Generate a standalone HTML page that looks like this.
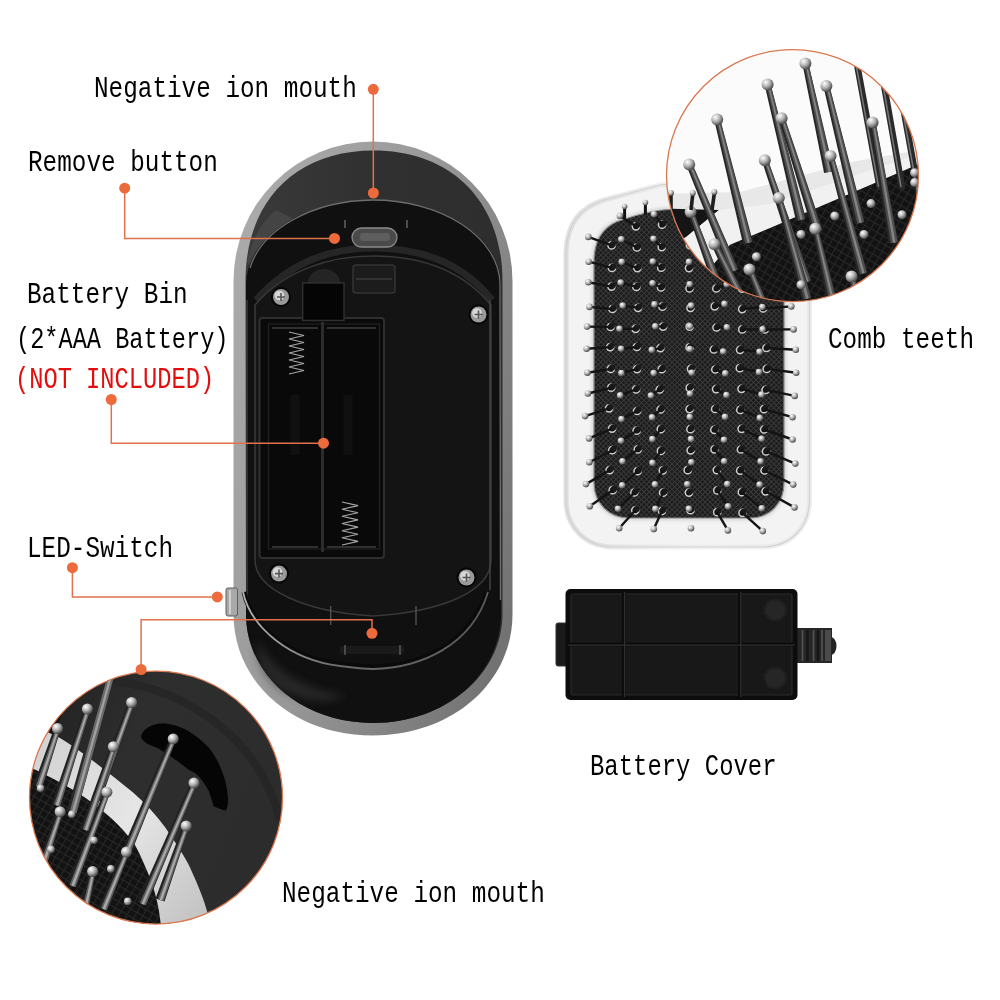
<!DOCTYPE html>
<html><head><meta charset="utf-8">
<style>
html,body{margin:0;padding:0;background:#fff;width:1000px;height:1000px;overflow:hidden}
#c{position:absolute;left:0;top:0}
.t{position:absolute;font-family:"Liberation Mono";font-size:30px;line-height:1;white-space:pre;color:#000;transform-origin:0 0;transform:scaleX(0.811)}
.r{color:#e30d0d}
</style></head>
<body>
<svg id="c" width="1000" height="1000" viewBox="0 0 1000 1000">
<defs>
 <linearGradient id="rimg" x1="0" y1="0.2" x2="1" y2="0.8">
  <stop offset="0" stop-color="#aaaaaa"/><stop offset="0.45" stop-color="#999999"/><stop offset="1" stop-color="#727272"/>
 </linearGradient>
 <linearGradient id="capg" x1="0" y1="0" x2="1" y2="0">
  <stop offset="0" stop-color="#3a3a3a"/><stop offset="0.5" stop-color="#303030"/><stop offset="1" stop-color="#2e2e2e"/>
 </linearGradient>
 <linearGradient id="frameg" x1="0" y1="0" x2="1" y2="0">
  <stop offset="0" stop-color="#cfcfcf"/><stop offset="0.12" stop-color="#ececec"/><stop offset="0.9" stop-color="#f3f3f3"/><stop offset="1" stop-color="#e4e4e4"/>
 </linearGradient>
 <radialGradient id="ballg" cx="0.35" cy="0.3" r="0.7">
  <stop offset="0" stop-color="#ffffff"/><stop offset="0.5" stop-color="#b5b5b5"/><stop offset="1" stop-color="#4a4a4a"/>
 </radialGradient>
 <linearGradient id="stemg" x1="0" y1="0" x2="1" y2="0">
  <stop offset="0" stop-color="#1a1a1a"/><stop offset="0.45" stop-color="#6a6a6a"/><stop offset="0.6" stop-color="#2a2a2a"/><stop offset="1" stop-color="#0c0c0c"/>
 </linearGradient>
 <pattern id="mesh" width="3.6" height="3.6" patternUnits="userSpaceOnUse" patternTransform="rotate(45)">
  <rect width="3.6" height="3.6" fill="#1c1c1c"/>
  <rect width="3.6" height="0.9" fill="#3a3a3a"/><rect width="0.9" height="3.6" fill="#3a3a3a"/>
 </pattern>
 <pattern id="mesh2" width="7" height="7" patternUnits="userSpaceOnUse" patternTransform="rotate(30)">
  <rect width="7" height="7" fill="#121212"/>
  <rect width="7" height="1.2" fill="#262626"/><rect width="1.2" height="7" fill="#262626"/>
 </pattern>
 <linearGradient id="bandg" x1="0" y1="0" x2="1" y2="1">
  <stop offset="0" stop-color="#cfcfcf"/><stop offset="0.5" stop-color="#e6e6e6"/><stop offset="1" stop-color="#bdbdbd"/>
 </linearGradient>
 <linearGradient id="housg" x1="0" y1="0" x2="1" y2="0.4">
  <stop offset="0" stop-color="#1e1e1e"/><stop offset="0.45" stop-color="#2e2e2e"/><stop offset="1" stop-color="#2c2c2c"/>
 </linearGradient>
 <linearGradient id="frameedge" x1="0" y1="0" x2="1" y2="0">
  <stop offset="0" stop-color="#cdcdcd"/><stop offset="0.5" stop-color="#ebebeb"/><stop offset="1" stop-color="#e2e2e2"/>
 </linearGradient>
 <filter id="blur4" x="-50%" y="-50%" width="200%" height="200%"><feGaussianBlur stdDeviation="4"/></filter>
 <filter id="blur2" x="-50%" y="-50%" width="200%" height="200%"><feGaussianBlur stdDeviation="1.5"/></filter>
 <linearGradient id="hlg" x1="0" y1="0" x2="1" y2="0">
  <stop offset="0" stop-color="#b0b0b0"/><stop offset="0.4" stop-color="#6a6a6a"/><stop offset="1" stop-color="#5a5a5a"/>
 </linearGradient>
 <clipPath id="c1"><circle cx="792.5" cy="175.6" r="126"/></clipPath>
 <clipPath id="c2"><circle cx="156" cy="797.6" r="126.5"/></clipPath>
 <clipPath id="padclip"><rect x="593" y="210" width="191" height="308" rx="35"/></clipPath>
</defs>

<path d="M233.5,281 A139.5,139.5 0 0 1 512.5,281 L512.5,614 C512.5,683 452,735.5 373,735.5 C294,735.5 233.5,683 233.5,614 Z" fill="url(#rimg)"/>
<path d="M245.5,281 C245.5,203 294,150.6 373.5,150.6 C453,150.6 502.5,203 502.5,281 L502.5,614 C502.5,674 446,723 373,723 C300,723 246,674 246,614 Z" fill="url(#capg)"/>
<path d="M247,262 C252,238 262,222 276,210 L300,222 C282,236 266,252 256,272 Z" fill="#4a4a4a" opacity="0.7"/>
<path d="M246,285 A127,85 0 0 1 501,285 L501,614 C501,674 446,723 373,723 C300,723 246,674 246,614 Z" fill="#101010"/>
<path d="M250,268 A127,85 0 0 1 373,200 A127,85 0 0 1 500,283 L500.5,600" fill="none" stroke="#6e6e6e" stroke-width="1.3"/>
<path d="M247,300 L247,600" fill="none" stroke="#3a3a3a" stroke-width="1.5"/>
<path d="M256,300 C290,262 330,248 373,248 C420,248 462,262 492,300" fill="none" stroke="#262626" stroke-width="7"/>
<path d="M255,305 C285,270 330,256 373,256 C420,256 462,270 491,305 L491,560 C491,592 440,612 373,616 C306,612 255,590 255,560 Z" fill="#141414" stroke="#383838" stroke-width="1.5"/>
<path d="M244,592 C252,628 290,658 340,664 C355,666 365,667 373,667 C420,666 470,645 487,592" fill="none" stroke="#0a0a0a" stroke-width="5"/>
<path d="M243,592 C251,628 290,660 340,666 C355,668 365,669 373,669 C420,668 472,646 488,592" fill="none" stroke="url(#hlg)" stroke-width="1.8"/>
<path d="M258,640 C270,668 300,688 345,696 C330,705 300,700 280,690 C262,676 255,660 258,640 Z" fill="#3a3a3a" opacity="0.55" filter="url(#blur4)"/>
<rect x="340" y="646" width="64" height="8" rx="2" fill="#1a1a1a"/>
<path d="M345,645 v10 M400,645 v10" stroke="#777" stroke-width="1"/>
<path d="M330.7,606 v19 M416,606 v19" stroke="#555" stroke-width="1.3"/>
<rect x="259.5" y="318" width="124.5" height="240" rx="3" fill="#0a0a0a" stroke="#2e2e2e" stroke-width="2"/>
<rect x="268.5" y="324" width="111" height="225" fill="#090909" stroke="#222" stroke-width="1.2"/>
<path d="M322.5,322 V552" stroke="#2c2c2c" stroke-width="3"/>
<path d="M272,328 H318 M327,328 H376 M272,547 H318 M327,547 H376" stroke="#5a5a5a" stroke-width="1.2"/>
<polyline points="289.0,332.0 304.0,335.5 289.0,339.0 304.0,342.5 289.0,346.0 304.0,349.5 289.0,353.0 304.0,356.5 289.0,360.0 304.0,363.5 289.0,367.0 304.0,370.5 289.0,374.0" fill="none" stroke="#a8a8a8" stroke-width="1.1"/>
<polyline points="342.0,502.0 358.0,505.6 342.0,509.2 358.0,512.8 342.0,516.3 358.0,519.9 342.0,523.5 358.0,527.1 342.0,530.7 358.0,534.2 342.0,537.8 358.0,541.4 342.0,545.0" fill="none" stroke="#a8a8a8" stroke-width="1.1"/>
<path d="M295,395 v60 M348,395 v60" stroke="#101010" stroke-width="9"/>
<path d="M308,283 A16,14 0 0 1 340,283 Z" fill="#242424"/>
<rect x="302.7" y="283" width="41.3" height="37.5" fill="#050505" stroke="#2e2e2e" stroke-width="1.5"/>
<rect x="353" y="265" width="42" height="28" rx="3" fill="#1c1c1c" stroke="#333" stroke-width="1.5"/>
<path d="M356,279 H392" stroke="#3a3a3a" stroke-width="1.5"/>
<rect x="352" y="228" width="45" height="19" rx="9.5" fill="#4a4a4a" stroke="#8a8a8a" stroke-width="1.3"/>
<rect x="360" y="233" width="30" height="8" rx="3" fill="#5e5e5e"/>
<path d="M345,220 v8 M407,220 v8" stroke="#777" stroke-width="1.2"/>
<circle cx="281" cy="297" r="10" fill="#050505"/><circle cx="281" cy="297" r="8" fill="#9a9a9a"/><circle cx="279.5" cy="295.5" r="4.8" fill="#d8d8d8"/><path d="M277,297 h8 M281,293 v8" stroke="#555" stroke-width="1.6"/>
<circle cx="478.5" cy="314.5" r="10" fill="#050505"/><circle cx="478.5" cy="314.5" r="8" fill="#9a9a9a"/><circle cx="477.0" cy="313.0" r="4.8" fill="#d8d8d8"/><path d="M474.5,314.5 h8 M478.5,310.5 v8" stroke="#555" stroke-width="1.6"/>
<circle cx="279" cy="573.6" r="10" fill="#050505"/><circle cx="279" cy="573.6" r="8" fill="#9a9a9a"/><circle cx="277.5" cy="572.1" r="4.8" fill="#d8d8d8"/><path d="M275,573.6 h8 M279,569.6 v8" stroke="#555" stroke-width="1.6"/>
<circle cx="466.5" cy="577.5" r="10" fill="#050505"/><circle cx="466.5" cy="577.5" r="8" fill="#9a9a9a"/><circle cx="465.0" cy="576.0" r="4.8" fill="#d8d8d8"/><path d="M462.5,577.5 h8 M466.5,573.5 v8" stroke="#555" stroke-width="1.6"/>
<rect x="226" y="588" width="11.5" height="28" rx="2" fill="#a8a8a8" stroke="#5e5e5e" stroke-width="1"/>
<path d="M230,590 V614" stroke="#e0e0e0" stroke-width="1.5"/>
<path d="M490,300 V590" stroke="#4a4a4a" stroke-width="1.3"/>
<path d="M566,500 L566,252 C567,224 579,208 604,200 L660,185 C690,182 755,183 770,184 C795,190 809.5,212 809.5,240 L809.5,500 C809.5,528 790,547 762,547 L614,547 C586,547 566,528 566,500 Z" fill="#f3f3f3"/>
<path d="M566,500 L566,252 C567,224 579,208 604,200 L660,185 C690,182 755,183 770,184 C795,190 809.5,212 809.5,240 L809.5,500 C809.5,528 790,547 762,547 L614,547 C586,547 566,528 566,500 Z" fill="none" stroke="url(#frameedge)" stroke-width="5" opacity="0.6"/>
<path d="M566,500 L566,252 C567,224 579,208 604,200 L660,185 C690,182 755,183 770,184 C795,190 809.5,212 809.5,240 L809.5,500 C809.5,528 790,547 762,547 L614,547 C586,547 566,528 566,500 Z" fill="none" stroke="#d2d2d2" stroke-width="1.2"/>
<path d="M594,483 L594,262 C594,238 605,224 625,219 C640,214 655,210 670,209.5 L750,209.5 C770,209.5 784,225 784,245 L784,483 C784,503 770,518 750,518 L629,518 C609,518 594,503 594,483 Z" fill="none" stroke="#d8d8d8" stroke-width="5" filter="url(#blur2)"/>
<path d="M594,483 L594,262 C594,238 605,224 625,219 C640,214 655,210 670,209.5 L750,209.5 C770,209.5 784,225 784,245 L784,483 C784,503 770,518 750,518 L629,518 C609,518 594,503 594,483 Z" fill="url(#mesh)"/>
<path d="M594,483 L594,262 C594,238 605,224 625,219 C640,214 655,210 670,209.5 L750,209.5 C770,209.5 784,225 784,245 L784,483 C784,503 770,518 750,518 L629,518 C609,518 594,503 594,483 Z" fill="none" stroke="#8a8a8a" stroke-width="1.2"/>
<circle cx="635.9" cy="226.3" r="3.6" fill="#111" stroke="#cfcfcf" stroke-width="1.5"/><circle cx="637.2" cy="225.0" r="3.1" fill="#1a1a1a"/><circle cx="662.1" cy="224.7" r="3.6" fill="#111" stroke="#cfcfcf" stroke-width="1.5"/><circle cx="663.4" cy="223.4" r="3.1" fill="#1a1a1a"/><circle cx="687.3" cy="227.0" r="3.6" fill="#111" stroke="#cfcfcf" stroke-width="1.5"/><circle cx="688.6" cy="225.7" r="3.1" fill="#1a1a1a"/><circle cx="714.6" cy="225.2" r="3.6" fill="#111" stroke="#cfcfcf" stroke-width="1.5"/><circle cx="715.9" cy="223.9" r="3.1" fill="#1a1a1a"/><circle cx="742.8" cy="225.9" r="3.6" fill="#111" stroke="#cfcfcf" stroke-width="1.5"/><circle cx="744.1" cy="224.6" r="3.1" fill="#1a1a1a"/><circle cx="611.6" cy="245.4" r="3.6" fill="#111" stroke="#cfcfcf" stroke-width="1.5"/><circle cx="612.9" cy="244.1" r="3.1" fill="#1a1a1a"/><circle cx="636.9" cy="247.5" r="3.6" fill="#111" stroke="#cfcfcf" stroke-width="1.5"/><circle cx="638.2" cy="246.2" r="3.1" fill="#1a1a1a"/><circle cx="661.7" cy="247.1" r="3.6" fill="#111" stroke="#cfcfcf" stroke-width="1.5"/><circle cx="663.0" cy="245.8" r="3.1" fill="#1a1a1a"/><circle cx="689.9" cy="245.1" r="3.6" fill="#111" stroke="#cfcfcf" stroke-width="1.5"/><circle cx="691.2" cy="243.8" r="3.1" fill="#1a1a1a"/><circle cx="716.6" cy="246.7" r="3.6" fill="#111" stroke="#cfcfcf" stroke-width="1.5"/><circle cx="717.9" cy="245.4" r="3.1" fill="#1a1a1a"/><circle cx="740.0" cy="245.0" r="3.6" fill="#111" stroke="#cfcfcf" stroke-width="1.5"/><circle cx="741.3" cy="243.7" r="3.1" fill="#1a1a1a"/><circle cx="766.3" cy="246.3" r="3.6" fill="#111" stroke="#cfcfcf" stroke-width="1.5"/><circle cx="767.6" cy="245.0" r="3.1" fill="#1a1a1a"/><circle cx="611.9" cy="267.9" r="3.6" fill="#111" stroke="#cfcfcf" stroke-width="1.5"/><circle cx="613.2" cy="266.6" r="3.1" fill="#1a1a1a"/><circle cx="637.3" cy="268.1" r="3.6" fill="#111" stroke="#cfcfcf" stroke-width="1.5"/><circle cx="638.6" cy="266.8" r="3.1" fill="#1a1a1a"/><circle cx="661.2" cy="267.7" r="3.6" fill="#111" stroke="#cfcfcf" stroke-width="1.5"/><circle cx="662.5" cy="266.4" r="3.1" fill="#1a1a1a"/><circle cx="689.0" cy="268.1" r="3.6" fill="#111" stroke="#cfcfcf" stroke-width="1.5"/><circle cx="690.3" cy="266.8" r="3.1" fill="#1a1a1a"/><circle cx="717.1" cy="265.6" r="3.6" fill="#111" stroke="#cfcfcf" stroke-width="1.5"/><circle cx="718.4" cy="264.3" r="3.1" fill="#1a1a1a"/><circle cx="739.3" cy="266.0" r="3.6" fill="#111" stroke="#cfcfcf" stroke-width="1.5"/><circle cx="740.6" cy="264.7" r="3.1" fill="#1a1a1a"/><circle cx="766.7" cy="266.6" r="3.6" fill="#111" stroke="#cfcfcf" stroke-width="1.5"/><circle cx="768.0" cy="265.3" r="3.1" fill="#1a1a1a"/><circle cx="611.5" cy="286.6" r="3.6" fill="#111" stroke="#cfcfcf" stroke-width="1.5"/><circle cx="612.8" cy="285.3" r="3.1" fill="#1a1a1a"/><circle cx="636.4" cy="286.9" r="3.6" fill="#111" stroke="#cfcfcf" stroke-width="1.5"/><circle cx="637.7" cy="285.6" r="3.1" fill="#1a1a1a"/><circle cx="661.0" cy="287.5" r="3.6" fill="#111" stroke="#cfcfcf" stroke-width="1.5"/><circle cx="662.3" cy="286.2" r="3.1" fill="#1a1a1a"/><circle cx="689.5" cy="288.4" r="3.6" fill="#111" stroke="#cfcfcf" stroke-width="1.5"/><circle cx="690.8" cy="287.1" r="3.1" fill="#1a1a1a"/><circle cx="716.3" cy="288.5" r="3.6" fill="#111" stroke="#cfcfcf" stroke-width="1.5"/><circle cx="717.6" cy="287.2" r="3.1" fill="#1a1a1a"/><circle cx="742.2" cy="288.7" r="3.6" fill="#111" stroke="#cfcfcf" stroke-width="1.5"/><circle cx="743.5" cy="287.4" r="3.1" fill="#1a1a1a"/><circle cx="765.5" cy="286.2" r="3.6" fill="#111" stroke="#cfcfcf" stroke-width="1.5"/><circle cx="766.8" cy="284.9" r="3.1" fill="#1a1a1a"/><circle cx="612.4" cy="309.0" r="3.6" fill="#111" stroke="#cfcfcf" stroke-width="1.5"/><circle cx="613.7" cy="307.7" r="3.1" fill="#1a1a1a"/><circle cx="638.0" cy="307.8" r="3.6" fill="#111" stroke="#cfcfcf" stroke-width="1.5"/><circle cx="639.3" cy="306.5" r="3.1" fill="#1a1a1a"/><circle cx="662.5" cy="306.7" r="3.6" fill="#111" stroke="#cfcfcf" stroke-width="1.5"/><circle cx="663.8" cy="305.4" r="3.1" fill="#1a1a1a"/><circle cx="690.5" cy="307.8" r="3.6" fill="#111" stroke="#cfcfcf" stroke-width="1.5"/><circle cx="691.8" cy="306.5" r="3.1" fill="#1a1a1a"/><circle cx="714.7" cy="306.3" r="3.6" fill="#111" stroke="#cfcfcf" stroke-width="1.5"/><circle cx="716.0" cy="305.0" r="3.1" fill="#1a1a1a"/><circle cx="742.2" cy="309.1" r="3.6" fill="#111" stroke="#cfcfcf" stroke-width="1.5"/><circle cx="743.5" cy="307.8" r="3.1" fill="#1a1a1a"/><circle cx="763.2" cy="308.5" r="3.6" fill="#111" stroke="#cfcfcf" stroke-width="1.5"/><circle cx="764.5" cy="307.2" r="3.1" fill="#1a1a1a"/><circle cx="610.6" cy="327.0" r="3.6" fill="#111" stroke="#cfcfcf" stroke-width="1.5"/><circle cx="611.9" cy="325.7" r="3.1" fill="#1a1a1a"/><circle cx="635.6" cy="328.8" r="3.6" fill="#111" stroke="#cfcfcf" stroke-width="1.5"/><circle cx="636.9" cy="327.5" r="3.1" fill="#1a1a1a"/><circle cx="663.1" cy="326.6" r="3.6" fill="#111" stroke="#cfcfcf" stroke-width="1.5"/><circle cx="664.4" cy="325.3" r="3.1" fill="#1a1a1a"/><circle cx="689.7" cy="326.6" r="3.6" fill="#111" stroke="#cfcfcf" stroke-width="1.5"/><circle cx="691.0" cy="325.3" r="3.1" fill="#1a1a1a"/><circle cx="716.5" cy="327.5" r="3.6" fill="#111" stroke="#cfcfcf" stroke-width="1.5"/><circle cx="717.8" cy="326.2" r="3.1" fill="#1a1a1a"/><circle cx="742.3" cy="329.4" r="3.6" fill="#111" stroke="#cfcfcf" stroke-width="1.5"/><circle cx="743.6" cy="328.1" r="3.1" fill="#1a1a1a"/><circle cx="764.8" cy="329.5" r="3.6" fill="#111" stroke="#cfcfcf" stroke-width="1.5"/><circle cx="766.1" cy="328.2" r="3.1" fill="#1a1a1a"/><circle cx="610.2" cy="347.1" r="3.6" fill="#111" stroke="#cfcfcf" stroke-width="1.5"/><circle cx="611.5" cy="345.8" r="3.1" fill="#1a1a1a"/><circle cx="636.8" cy="347.0" r="3.6" fill="#111" stroke="#cfcfcf" stroke-width="1.5"/><circle cx="638.1" cy="345.7" r="3.1" fill="#1a1a1a"/><circle cx="660.4" cy="348.1" r="3.6" fill="#111" stroke="#cfcfcf" stroke-width="1.5"/><circle cx="661.7" cy="346.8" r="3.1" fill="#1a1a1a"/><circle cx="689.6" cy="347.4" r="3.6" fill="#111" stroke="#cfcfcf" stroke-width="1.5"/><circle cx="690.9" cy="346.1" r="3.1" fill="#1a1a1a"/><circle cx="713.8" cy="349.5" r="3.6" fill="#111" stroke="#cfcfcf" stroke-width="1.5"/><circle cx="715.1" cy="348.2" r="3.1" fill="#1a1a1a"/><circle cx="740.1" cy="349.8" r="3.6" fill="#111" stroke="#cfcfcf" stroke-width="1.5"/><circle cx="741.4" cy="348.5" r="3.1" fill="#1a1a1a"/><circle cx="766.4" cy="348.0" r="3.6" fill="#111" stroke="#cfcfcf" stroke-width="1.5"/><circle cx="767.7" cy="346.7" r="3.1" fill="#1a1a1a"/><circle cx="610.8" cy="368.9" r="3.6" fill="#111" stroke="#cfcfcf" stroke-width="1.5"/><circle cx="612.1" cy="367.6" r="3.1" fill="#1a1a1a"/><circle cx="637.0" cy="369.1" r="3.6" fill="#111" stroke="#cfcfcf" stroke-width="1.5"/><circle cx="638.3" cy="367.8" r="3.1" fill="#1a1a1a"/><circle cx="661.8" cy="369.2" r="3.6" fill="#111" stroke="#cfcfcf" stroke-width="1.5"/><circle cx="663.1" cy="367.9" r="3.1" fill="#1a1a1a"/><circle cx="691.0" cy="368.8" r="3.6" fill="#111" stroke="#cfcfcf" stroke-width="1.5"/><circle cx="692.3" cy="367.5" r="3.1" fill="#1a1a1a"/><circle cx="715.3" cy="369.5" r="3.6" fill="#111" stroke="#cfcfcf" stroke-width="1.5"/><circle cx="716.6" cy="368.2" r="3.1" fill="#1a1a1a"/><circle cx="739.8" cy="368.2" r="3.6" fill="#111" stroke="#cfcfcf" stroke-width="1.5"/><circle cx="741.1" cy="366.9" r="3.1" fill="#1a1a1a"/><circle cx="766.7" cy="368.9" r="3.6" fill="#111" stroke="#cfcfcf" stroke-width="1.5"/><circle cx="768.0" cy="367.6" r="3.1" fill="#1a1a1a"/><circle cx="611.2" cy="387.7" r="3.6" fill="#111" stroke="#cfcfcf" stroke-width="1.5"/><circle cx="612.5" cy="386.4" r="3.1" fill="#1a1a1a"/><circle cx="636.1" cy="389.4" r="3.6" fill="#111" stroke="#cfcfcf" stroke-width="1.5"/><circle cx="637.4" cy="388.1" r="3.1" fill="#1a1a1a"/><circle cx="659.7" cy="389.5" r="3.6" fill="#111" stroke="#cfcfcf" stroke-width="1.5"/><circle cx="661.0" cy="388.2" r="3.1" fill="#1a1a1a"/><circle cx="689.7" cy="387.9" r="3.6" fill="#111" stroke="#cfcfcf" stroke-width="1.5"/><circle cx="691.0" cy="386.6" r="3.1" fill="#1a1a1a"/><circle cx="716.1" cy="389.1" r="3.6" fill="#111" stroke="#cfcfcf" stroke-width="1.5"/><circle cx="717.4" cy="387.8" r="3.1" fill="#1a1a1a"/><circle cx="741.5" cy="388.8" r="3.6" fill="#111" stroke="#cfcfcf" stroke-width="1.5"/><circle cx="742.8" cy="387.5" r="3.1" fill="#1a1a1a"/><circle cx="765.6" cy="389.9" r="3.6" fill="#111" stroke="#cfcfcf" stroke-width="1.5"/><circle cx="766.9" cy="388.6" r="3.1" fill="#1a1a1a"/><circle cx="609.1" cy="408.3" r="3.6" fill="#111" stroke="#cfcfcf" stroke-width="1.5"/><circle cx="610.4" cy="407.0" r="3.1" fill="#1a1a1a"/><circle cx="637.1" cy="411.0" r="3.6" fill="#111" stroke="#cfcfcf" stroke-width="1.5"/><circle cx="638.4" cy="409.7" r="3.1" fill="#1a1a1a"/><circle cx="660.6" cy="409.5" r="3.6" fill="#111" stroke="#cfcfcf" stroke-width="1.5"/><circle cx="661.9" cy="408.2" r="3.1" fill="#1a1a1a"/><circle cx="689.6" cy="409.1" r="3.6" fill="#111" stroke="#cfcfcf" stroke-width="1.5"/><circle cx="690.9" cy="407.8" r="3.1" fill="#1a1a1a"/><circle cx="715.1" cy="409.0" r="3.6" fill="#111" stroke="#cfcfcf" stroke-width="1.5"/><circle cx="716.4" cy="407.7" r="3.1" fill="#1a1a1a"/><circle cx="740.3" cy="409.9" r="3.6" fill="#111" stroke="#cfcfcf" stroke-width="1.5"/><circle cx="741.6" cy="408.6" r="3.1" fill="#1a1a1a"/><circle cx="764.0" cy="409.2" r="3.6" fill="#111" stroke="#cfcfcf" stroke-width="1.5"/><circle cx="765.3" cy="407.9" r="3.1" fill="#1a1a1a"/><circle cx="612.1" cy="428.6" r="3.6" fill="#111" stroke="#cfcfcf" stroke-width="1.5"/><circle cx="613.4" cy="427.3" r="3.1" fill="#1a1a1a"/><circle cx="636.7" cy="430.7" r="3.6" fill="#111" stroke="#cfcfcf" stroke-width="1.5"/><circle cx="638.0" cy="429.4" r="3.1" fill="#1a1a1a"/><circle cx="660.8" cy="429.2" r="3.6" fill="#111" stroke="#cfcfcf" stroke-width="1.5"/><circle cx="662.1" cy="427.9" r="3.1" fill="#1a1a1a"/><circle cx="690.4" cy="429.2" r="3.6" fill="#111" stroke="#cfcfcf" stroke-width="1.5"/><circle cx="691.7" cy="427.9" r="3.1" fill="#1a1a1a"/><circle cx="714.3" cy="429.8" r="3.6" fill="#111" stroke="#cfcfcf" stroke-width="1.5"/><circle cx="715.6" cy="428.5" r="3.1" fill="#1a1a1a"/><circle cx="741.6" cy="428.8" r="3.6" fill="#111" stroke="#cfcfcf" stroke-width="1.5"/><circle cx="742.9" cy="427.5" r="3.1" fill="#1a1a1a"/><circle cx="764.1" cy="429.5" r="3.6" fill="#111" stroke="#cfcfcf" stroke-width="1.5"/><circle cx="765.4" cy="428.2" r="3.1" fill="#1a1a1a"/><circle cx="612.3" cy="450.2" r="3.6" fill="#111" stroke="#cfcfcf" stroke-width="1.5"/><circle cx="613.6" cy="448.9" r="3.1" fill="#1a1a1a"/><circle cx="637.8" cy="449.4" r="3.6" fill="#111" stroke="#cfcfcf" stroke-width="1.5"/><circle cx="639.1" cy="448.1" r="3.1" fill="#1a1a1a"/><circle cx="660.9" cy="450.9" r="3.6" fill="#111" stroke="#cfcfcf" stroke-width="1.5"/><circle cx="662.2" cy="449.6" r="3.1" fill="#1a1a1a"/><circle cx="690.7" cy="450.3" r="3.6" fill="#111" stroke="#cfcfcf" stroke-width="1.5"/><circle cx="692.0" cy="449.0" r="3.1" fill="#1a1a1a"/><circle cx="714.5" cy="449.3" r="3.6" fill="#111" stroke="#cfcfcf" stroke-width="1.5"/><circle cx="715.8" cy="448.0" r="3.1" fill="#1a1a1a"/><circle cx="740.9" cy="449.5" r="3.6" fill="#111" stroke="#cfcfcf" stroke-width="1.5"/><circle cx="742.2" cy="448.2" r="3.1" fill="#1a1a1a"/><circle cx="766.0" cy="451.4" r="3.6" fill="#111" stroke="#cfcfcf" stroke-width="1.5"/><circle cx="767.3" cy="450.1" r="3.1" fill="#1a1a1a"/><circle cx="609.7" cy="470.1" r="3.6" fill="#111" stroke="#cfcfcf" stroke-width="1.5"/><circle cx="611.0" cy="468.8" r="3.1" fill="#1a1a1a"/><circle cx="637.6" cy="471.2" r="3.6" fill="#111" stroke="#cfcfcf" stroke-width="1.5"/><circle cx="638.9" cy="469.9" r="3.1" fill="#1a1a1a"/><circle cx="662.8" cy="470.3" r="3.6" fill="#111" stroke="#cfcfcf" stroke-width="1.5"/><circle cx="664.1" cy="469.0" r="3.1" fill="#1a1a1a"/><circle cx="687.7" cy="470.2" r="3.6" fill="#111" stroke="#cfcfcf" stroke-width="1.5"/><circle cx="689.0" cy="468.9" r="3.1" fill="#1a1a1a"/><circle cx="716.8" cy="470.1" r="3.6" fill="#111" stroke="#cfcfcf" stroke-width="1.5"/><circle cx="718.1" cy="468.8" r="3.1" fill="#1a1a1a"/><circle cx="740.2" cy="470.6" r="3.6" fill="#111" stroke="#cfcfcf" stroke-width="1.5"/><circle cx="741.5" cy="469.3" r="3.1" fill="#1a1a1a"/><circle cx="764.5" cy="470.5" r="3.6" fill="#111" stroke="#cfcfcf" stroke-width="1.5"/><circle cx="765.8" cy="469.2" r="3.1" fill="#1a1a1a"/><circle cx="612.7" cy="490.2" r="3.6" fill="#111" stroke="#cfcfcf" stroke-width="1.5"/><circle cx="614.0" cy="488.9" r="3.1" fill="#1a1a1a"/><circle cx="634.4" cy="492.5" r="3.6" fill="#111" stroke="#cfcfcf" stroke-width="1.5"/><circle cx="635.7" cy="491.2" r="3.1" fill="#1a1a1a"/><circle cx="663.1" cy="492.7" r="3.6" fill="#111" stroke="#cfcfcf" stroke-width="1.5"/><circle cx="664.4" cy="491.4" r="3.1" fill="#1a1a1a"/><circle cx="688.9" cy="492.6" r="3.6" fill="#111" stroke="#cfcfcf" stroke-width="1.5"/><circle cx="690.2" cy="491.3" r="3.1" fill="#1a1a1a"/><circle cx="717.3" cy="490.4" r="3.6" fill="#111" stroke="#cfcfcf" stroke-width="1.5"/><circle cx="718.6" cy="489.1" r="3.1" fill="#1a1a1a"/><circle cx="741.8" cy="492.2" r="3.6" fill="#111" stroke="#cfcfcf" stroke-width="1.5"/><circle cx="743.1" cy="490.9" r="3.1" fill="#1a1a1a"/><circle cx="765.5" cy="491.3" r="3.6" fill="#111" stroke="#cfcfcf" stroke-width="1.5"/><circle cx="766.8" cy="490.0" r="3.1" fill="#1a1a1a"/><circle cx="635.3" cy="510.3" r="3.6" fill="#111" stroke="#cfcfcf" stroke-width="1.5"/><circle cx="636.6" cy="509.0" r="3.1" fill="#1a1a1a"/><circle cx="662.0" cy="511.0" r="3.6" fill="#111" stroke="#cfcfcf" stroke-width="1.5"/><circle cx="663.3" cy="509.7" r="3.1" fill="#1a1a1a"/><circle cx="690.4" cy="510.2" r="3.6" fill="#111" stroke="#cfcfcf" stroke-width="1.5"/><circle cx="691.7" cy="508.9" r="3.1" fill="#1a1a1a"/><circle cx="717.2" cy="512.2" r="3.6" fill="#111" stroke="#cfcfcf" stroke-width="1.5"/><circle cx="718.5" cy="510.9" r="3.1" fill="#1a1a1a"/><circle cx="742.5" cy="512.8" r="3.6" fill="#111" stroke="#cfcfcf" stroke-width="1.5"/><circle cx="743.8" cy="511.5" r="3.1" fill="#1a1a1a"/>
<path d="M635.8798206661922,226.3117601157886 L619.9,215.9" stroke="#141414" stroke-width="2.4"/><path d="M662.1028812164323,224.69658657771944 L654.0,214.2" stroke="#141414" stroke-width="2.4"/><path d="M714.6374160573121,225.2029928831401 L724.4,214.7" stroke="#141414" stroke-width="2.4"/><path d="M742.7825793420418,225.91079052256734 L763.2,215.5" stroke="#141414" stroke-width="2.4"/><path d="M611.5562725621767,245.35184927207058 L588.3,236.9" stroke="#141414" stroke-width="2.4"/><path d="M636.9394426331407,247.5041359214299 L621.3,239.3" stroke="#141414" stroke-width="2.4"/><path d="M661.6927248415333,247.12375556860448 L653.5,238.8" stroke="#141414" stroke-width="2.4"/><path d="M716.6329209851473,246.67329874879397 L727.1,238.3" stroke="#141414" stroke-width="2.4"/><path d="M740.0050706380628,244.99303525440925 L759.4,236.5" stroke="#141414" stroke-width="2.4"/><path d="M766.2621089479157,246.3182472659964 L795.6,238.0" stroke="#141414" stroke-width="2.4"/><path d="M611.8752956962633,267.93643840076646 L588.7,261.7" stroke="#141414" stroke-width="2.4"/><path d="M637.2565179344448,268.06329600275166 L621.7,261.9" stroke="#141414" stroke-width="2.4"/><path d="M661.179853616003,267.7027263129557 L652.8,261.5" stroke="#141414" stroke-width="2.4"/><path d="M717.1154666413522,265.59236292919263 L727.8,259.2" stroke="#141414" stroke-width="2.4"/><path d="M739.3438754408027,265.9509608236994 L758.5,259.5" stroke="#141414" stroke-width="2.4"/><path d="M766.6619205555928,266.6084855998823 L796.2,260.3" stroke="#141414" stroke-width="2.4"/><path d="M611.5065931634672,286.6030785952765 L588.3,282.3" stroke="#141414" stroke-width="2.4"/><path d="M636.4289719353162,286.8575987765347 L620.7,282.5" stroke="#141414" stroke-width="2.4"/><path d="M661.0036419550808,287.45522232221606 L652.6,283.2" stroke="#141414" stroke-width="2.4"/><path d="M716.3279285465399,288.48683680360006 L726.7,284.3" stroke="#141414" stroke-width="2.4"/><path d="M742.225602265587,288.67296893460644 L762.5,284.5" stroke="#141414" stroke-width="2.4"/><path d="M765.48509416865,286.1892988659132 L794.5,281.8" stroke="#141414" stroke-width="2.4"/><path d="M612.442550132465,308.9938988419272 L589.5,306.9" stroke="#141414" stroke-width="2.4"/><path d="M638.018783938049,307.807322510423 L622.7,305.6" stroke="#141414" stroke-width="2.4"/><path d="M662.4552680806968,306.7333749510268 L654.5,304.4" stroke="#141414" stroke-width="2.4"/><path d="M714.7398298479449,306.29038173143573 L724.5,303.9" stroke="#141414" stroke-width="2.4"/><path d="M742.2157699536907,309.06941804476475 L762.4,307.0" stroke="#141414" stroke-width="2.4"/><path d="M763.1540723724389,308.50178596377253 L791.3,306.4" stroke="#141414" stroke-width="2.4"/><path d="M610.6418473093836,326.95229612335845 L587.1,326.6" stroke="#141414" stroke-width="2.4"/><path d="M635.5755649872763,328.806375661832 L619.5,328.7" stroke="#141414" stroke-width="2.4"/><path d="M663.0910680985128,326.6325701833886 L655.3,326.3" stroke="#141414" stroke-width="2.4"/><path d="M716.4737619097941,327.49286243805705 L726.9,327.2" stroke="#141414" stroke-width="2.4"/><path d="M742.3236212289894,329.44190727053 L762.6,329.4" stroke="#141414" stroke-width="2.4"/><path d="M764.8216814945921,329.49552683612734 L793.6,329.4" stroke="#141414" stroke-width="2.4"/><path d="M610.2386802139054,347.1309121141162 L586.6,348.8" stroke="#141414" stroke-width="2.4"/><path d="M636.7990512351864,346.99413328652594 L621.1,348.7" stroke="#141414" stroke-width="2.4"/><path d="M660.3895394257137,348.12380840685097 L651.8,349.9" stroke="#141414" stroke-width="2.4"/><path d="M713.7697432988848,349.50333710178313 L723.2,351.5" stroke="#141414" stroke-width="2.4"/><path d="M740.0553220796643,349.77597827922534 L759.5,351.8" stroke="#141414" stroke-width="2.4"/><path d="M766.3866385657103,348.03336771823655 L795.8,349.8" stroke="#141414" stroke-width="2.4"/><path d="M610.8416385313836,368.86021895377763 L587.4,372.7" stroke="#141414" stroke-width="2.4"/><path d="M636.9755548735509,369.0869507152059 L621.4,373.0" stroke="#141414" stroke-width="2.4"/><path d="M661.8370442480616,369.1603784063357 L653.7,373.1" stroke="#141414" stroke-width="2.4"/><path d="M715.3247662137237,369.4609337564324 L725.3,373.4" stroke="#141414" stroke-width="2.4"/><path d="M739.7505424778591,368.2032605835224 L759.0,372.0" stroke="#141414" stroke-width="2.4"/><path d="M766.7111892657945,368.8633818798436 L796.2,372.7" stroke="#141414" stroke-width="2.4"/><path d="M611.1937218707475,387.73437245909264 L587.9,393.5" stroke="#141414" stroke-width="2.4"/><path d="M636.0608413752155,389.43989564139116 L620.2,395.4" stroke="#141414" stroke-width="2.4"/><path d="M659.6802115612185,389.54739382391875 L650.9,395.5" stroke="#141414" stroke-width="2.4"/><path d="M716.1093644360438,389.0987512890901 L726.4,395.0" stroke="#141414" stroke-width="2.4"/><path d="M741.5171255921524,388.75773094912313 L761.5,394.6" stroke="#141414" stroke-width="2.4"/><path d="M765.6278009974635,389.91410286775607 L794.7,395.9" stroke="#141414" stroke-width="2.4"/><path d="M609.0887298759633,408.2817304109374 L585.1,416.1" stroke="#141414" stroke-width="2.4"/><path d="M637.1040812379495,410.9899167411588 L621.5,419.1" stroke="#141414" stroke-width="2.4"/><path d="M660.6044891127339,409.4689363889092 L652.1,417.4" stroke="#141414" stroke-width="2.4"/><path d="M715.0558203573598,409.03801198359076 L725.0,416.9" stroke="#141414" stroke-width="2.4"/><path d="M740.2766159011078,409.88686451757263 L759.8,417.9" stroke="#141414" stroke-width="2.4"/><path d="M764.0016158934623,409.23148102398676 L792.5,417.2" stroke="#141414" stroke-width="2.4"/><path d="M612.0890936497765,428.580763615028 L589.0,438.4" stroke="#141414" stroke-width="2.4"/><path d="M636.6770320082823,430.70551954503554 L621.0,440.8" stroke="#141414" stroke-width="2.4"/><path d="M660.8400667816404,429.16761352837955 L652.4,439.1" stroke="#141414" stroke-width="2.4"/><path d="M714.3495773636718,429.80570296159846 L724.0,439.8" stroke="#141414" stroke-width="2.4"/><path d="M741.5922656266994,428.8055250778956 L761.6,438.7" stroke="#141414" stroke-width="2.4"/><path d="M764.087863938485,429.501260951346 L792.6,439.5" stroke="#141414" stroke-width="2.4"/><path d="M612.3341555662292,450.21529219768416 L589.3,462.2" stroke="#141414" stroke-width="2.4"/><path d="M637.8221407759395,449.4078526976693 L622.5,461.3" stroke="#141414" stroke-width="2.4"/><path d="M660.9468409401795,450.85069712887747 L652.5,462.9" stroke="#141414" stroke-width="2.4"/><path d="M714.5001113708915,449.26275797413086 L724.2,461.2" stroke="#141414" stroke-width="2.4"/><path d="M740.9185105132335,449.47241141755444 L760.6,461.4" stroke="#141414" stroke-width="2.4"/><path d="M766.0271089505018,451.41542913708463 L795.3,463.6" stroke="#141414" stroke-width="2.4"/><path d="M609.734345253221,470.1357764260495 L586.0,484.1" stroke="#141414" stroke-width="2.4"/><path d="M637.6289056726678,471.2258117694899 L622.2,485.3" stroke="#141414" stroke-width="2.4"/><path d="M662.8250313645402,470.33584841466273 L655.0,484.4" stroke="#141414" stroke-width="2.4"/><path d="M716.7754476979367,470.11352348174273 L727.3,484.1" stroke="#141414" stroke-width="2.4"/><path d="M740.1854171226673,470.5507170876204 L759.6,484.6" stroke="#141414" stroke-width="2.4"/><path d="M764.479084735165,470.52856634934716 L793.2,484.6" stroke="#141414" stroke-width="2.4"/><path d="M612.6824495319505,490.1679935768151 L589.8,506.2" stroke="#141414" stroke-width="2.4"/><path d="M634.4186471783325,492.5298035077573 L618.0,508.8" stroke="#141414" stroke-width="2.4"/><path d="M663.1199130065042,492.66074096508635 L655.4,508.9" stroke="#141414" stroke-width="2.4"/><path d="M717.3095088576454,490.36627220881695 L728.1,506.4" stroke="#141414" stroke-width="2.4"/><path d="M741.7820920365057,492.2100960378359 L761.8,508.4" stroke="#141414" stroke-width="2.4"/><path d="M765.4519488021139,491.25704492993725 L794.5,507.4" stroke="#141414" stroke-width="2.4"/><path d="M635.3098653454044,510.30420287232056 L619.2,528.3" stroke="#141414" stroke-width="2.4"/><path d="M661.9547108760763,510.96103353172526 L653.8,529.1" stroke="#141414" stroke-width="2.4"/><path d="M717.2144371272013,512.1811168218917 L727.9,530.4" stroke="#141414" stroke-width="2.4"/><path d="M742.4954191982289,512.789701494952 L762.8,531.1" stroke="#141414" stroke-width="2.4"/>
<circle cx="619.9" cy="215.9" r="3.3" fill="url(#ballg)"/><circle cx="654.0" cy="214.2" r="3.3" fill="url(#ballg)"/><circle cx="686.7" cy="216.7" r="3.3" fill="url(#ballg)"/><circle cx="724.4" cy="214.7" r="3.3" fill="url(#ballg)"/><circle cx="763.2" cy="215.5" r="3.3" fill="url(#ballg)"/><circle cx="588.3" cy="236.9" r="3.3" fill="url(#ballg)"/><circle cx="621.3" cy="239.3" r="3.3" fill="url(#ballg)"/><circle cx="653.5" cy="238.8" r="3.3" fill="url(#ballg)"/><circle cx="690.2" cy="236.6" r="3.3" fill="url(#ballg)"/><circle cx="727.1" cy="238.3" r="3.3" fill="url(#ballg)"/><circle cx="759.4" cy="236.5" r="3.3" fill="url(#ballg)"/><circle cx="795.6" cy="238.0" r="3.3" fill="url(#ballg)"/><circle cx="588.7" cy="261.7" r="3.3" fill="url(#ballg)"/><circle cx="621.7" cy="261.9" r="3.3" fill="url(#ballg)"/><circle cx="652.8" cy="261.5" r="3.3" fill="url(#ballg)"/><circle cx="689.0" cy="261.9" r="3.3" fill="url(#ballg)"/><circle cx="727.8" cy="259.2" r="3.3" fill="url(#ballg)"/><circle cx="758.5" cy="259.5" r="3.3" fill="url(#ballg)"/><circle cx="796.2" cy="260.3" r="3.3" fill="url(#ballg)"/><circle cx="588.3" cy="282.3" r="3.3" fill="url(#ballg)"/><circle cx="620.7" cy="282.5" r="3.3" fill="url(#ballg)"/><circle cx="652.6" cy="283.2" r="3.3" fill="url(#ballg)"/><circle cx="689.7" cy="284.3" r="3.3" fill="url(#ballg)"/><circle cx="726.7" cy="284.3" r="3.3" fill="url(#ballg)"/><circle cx="762.5" cy="284.5" r="3.3" fill="url(#ballg)"/><circle cx="794.5" cy="281.8" r="3.3" fill="url(#ballg)"/><circle cx="589.5" cy="306.9" r="3.3" fill="url(#ballg)"/><circle cx="622.7" cy="305.6" r="3.3" fill="url(#ballg)"/><circle cx="654.5" cy="304.4" r="3.3" fill="url(#ballg)"/><circle cx="691.1" cy="305.6" r="3.3" fill="url(#ballg)"/><circle cx="724.5" cy="303.9" r="3.3" fill="url(#ballg)"/><circle cx="762.4" cy="307.0" r="3.3" fill="url(#ballg)"/><circle cx="791.3" cy="306.4" r="3.3" fill="url(#ballg)"/><circle cx="587.1" cy="326.6" r="3.3" fill="url(#ballg)"/><circle cx="619.5" cy="328.7" r="3.3" fill="url(#ballg)"/><circle cx="655.3" cy="326.3" r="3.3" fill="url(#ballg)"/><circle cx="689.9" cy="326.3" r="3.3" fill="url(#ballg)"/><circle cx="726.9" cy="327.2" r="3.3" fill="url(#ballg)"/><circle cx="762.6" cy="329.4" r="3.3" fill="url(#ballg)"/><circle cx="793.6" cy="329.4" r="3.3" fill="url(#ballg)"/><circle cx="586.6" cy="348.8" r="3.3" fill="url(#ballg)"/><circle cx="621.1" cy="348.7" r="3.3" fill="url(#ballg)"/><circle cx="651.8" cy="349.9" r="3.3" fill="url(#ballg)"/><circle cx="689.9" cy="349.1" r="3.3" fill="url(#ballg)"/><circle cx="723.2" cy="351.5" r="3.3" fill="url(#ballg)"/><circle cx="759.5" cy="351.8" r="3.3" fill="url(#ballg)"/><circle cx="795.8" cy="349.8" r="3.3" fill="url(#ballg)"/><circle cx="587.4" cy="372.7" r="3.3" fill="url(#ballg)"/><circle cx="621.4" cy="373.0" r="3.3" fill="url(#ballg)"/><circle cx="653.7" cy="373.1" r="3.3" fill="url(#ballg)"/><circle cx="691.7" cy="372.7" r="3.3" fill="url(#ballg)"/><circle cx="725.3" cy="373.4" r="3.3" fill="url(#ballg)"/><circle cx="759.0" cy="372.0" r="3.3" fill="url(#ballg)"/><circle cx="796.2" cy="372.7" r="3.3" fill="url(#ballg)"/><circle cx="587.9" cy="393.5" r="3.3" fill="url(#ballg)"/><circle cx="620.2" cy="395.4" r="3.3" fill="url(#ballg)"/><circle cx="650.9" cy="395.5" r="3.3" fill="url(#ballg)"/><circle cx="690.0" cy="393.7" r="3.3" fill="url(#ballg)"/><circle cx="726.4" cy="395.0" r="3.3" fill="url(#ballg)"/><circle cx="761.5" cy="394.6" r="3.3" fill="url(#ballg)"/><circle cx="794.7" cy="395.9" r="3.3" fill="url(#ballg)"/><circle cx="585.1" cy="416.1" r="3.3" fill="url(#ballg)"/><circle cx="621.5" cy="419.1" r="3.3" fill="url(#ballg)"/><circle cx="652.1" cy="417.4" r="3.3" fill="url(#ballg)"/><circle cx="689.8" cy="417.0" r="3.3" fill="url(#ballg)"/><circle cx="725.0" cy="416.9" r="3.3" fill="url(#ballg)"/><circle cx="759.8" cy="417.9" r="3.3" fill="url(#ballg)"/><circle cx="792.5" cy="417.2" r="3.3" fill="url(#ballg)"/><circle cx="589.0" cy="438.4" r="3.3" fill="url(#ballg)"/><circle cx="621.0" cy="440.8" r="3.3" fill="url(#ballg)"/><circle cx="652.4" cy="439.1" r="3.3" fill="url(#ballg)"/><circle cx="691.0" cy="439.1" r="3.3" fill="url(#ballg)"/><circle cx="724.0" cy="439.8" r="3.3" fill="url(#ballg)"/><circle cx="761.6" cy="438.7" r="3.3" fill="url(#ballg)"/><circle cx="792.6" cy="439.5" r="3.3" fill="url(#ballg)"/><circle cx="589.3" cy="462.2" r="3.3" fill="url(#ballg)"/><circle cx="622.5" cy="461.3" r="3.3" fill="url(#ballg)"/><circle cx="652.5" cy="462.9" r="3.3" fill="url(#ballg)"/><circle cx="691.4" cy="462.3" r="3.3" fill="url(#ballg)"/><circle cx="724.2" cy="461.2" r="3.3" fill="url(#ballg)"/><circle cx="760.6" cy="461.4" r="3.3" fill="url(#ballg)"/><circle cx="795.3" cy="463.6" r="3.3" fill="url(#ballg)"/><circle cx="586.0" cy="484.1" r="3.3" fill="url(#ballg)"/><circle cx="622.2" cy="485.3" r="3.3" fill="url(#ballg)"/><circle cx="655.0" cy="484.4" r="3.3" fill="url(#ballg)"/><circle cx="687.3" cy="484.2" r="3.3" fill="url(#ballg)"/><circle cx="727.3" cy="484.1" r="3.3" fill="url(#ballg)"/><circle cx="759.6" cy="484.6" r="3.3" fill="url(#ballg)"/><circle cx="793.2" cy="484.6" r="3.3" fill="url(#ballg)"/><circle cx="589.8" cy="506.2" r="3.3" fill="url(#ballg)"/><circle cx="618.0" cy="508.8" r="3.3" fill="url(#ballg)"/><circle cx="655.4" cy="508.9" r="3.3" fill="url(#ballg)"/><circle cx="688.9" cy="508.8" r="3.3" fill="url(#ballg)"/><circle cx="728.1" cy="506.4" r="3.3" fill="url(#ballg)"/><circle cx="761.8" cy="508.4" r="3.3" fill="url(#ballg)"/><circle cx="794.5" cy="507.4" r="3.3" fill="url(#ballg)"/><circle cx="619.2" cy="528.3" r="3.3" fill="url(#ballg)"/><circle cx="653.8" cy="529.1" r="3.3" fill="url(#ballg)"/><circle cx="691.0" cy="528.3" r="3.3" fill="url(#ballg)"/><circle cx="727.9" cy="530.4" r="3.3" fill="url(#ballg)"/><circle cx="762.8" cy="531.1" r="3.3" fill="url(#ballg)"/>
<path d="M624.6,206.5 L624.6,218.5" stroke="#111" stroke-width="3"/><circle cx="624.6" cy="206.5" r="2.8" fill="url(#ballg)"/>
<path d="M645.4,202.6 L645.4,214.6" stroke="#111" stroke-width="3"/><circle cx="645.4" cy="202.6" r="2.8" fill="url(#ballg)"/>
<g clip-path="url(#c1)">
<rect x="660" y="40" width="270" height="270" fill="#fbfbfb"/>
<polygon points="660,194 740,192 854,161.6 930,148 930,165 912,167 821,208 743,232 719,210 660,210" fill="#e8e8e8"/>
<polygon points="672.4,208.8 719,210 685.6,237.6 660,245 660,208" fill="#151515"/>
<polygon points="685.6,237.6 719,210 770,204 930,150 930,165 912,167 770,228 730,244.8 709.6,268.8 700,290 660,300 660,250" fill="#f1f1f1"/>
<polygon points="709.6,268.8 730,244.8 770,228 912,167 930,160 930,320 735,320 715,285" fill="url(#mesh2)"/>
<path d="M854.4,50 L879.6,186.8" stroke="#2a2a2a" stroke-width="6.5" stroke-linecap="round"/>
<path d="M853.4,50 L878.6,186.8" stroke="#777" stroke-width="1.5"/>
<path d="M879.6,60 L902,186.8" stroke="#2a2a2a" stroke-width="6.5" stroke-linecap="round"/>
<path d="M878.6,60 L901,186.8" stroke="#777" stroke-width="1.5"/>
<path d="M900,90 L920,200" stroke="#2a2a2a" stroke-width="6.5" stroke-linecap="round"/>
<path d="M899,90 L919,200" stroke="#777" stroke-width="1.5"/>
<polygon points="802.5,64.2 824.1,173.1 833.9,170.9 808.3,63.0" fill="#262626"/><polygon points="804.1,63.9 826.3,172.6 833.1,171.1 808.2,63.0" fill="#4e4e4e"/><polygon points="805.4,63.6 828.5,172.1 830.9,171.6 806.8,63.3" fill="#858585"/>
<polygon points="764.7,85.3 796.1,221.2 805.9,218.8 770.5,83.9" fill="#262626"/><polygon points="766.3,84.9 798.3,220.7 805.1,219.0 770.3,83.9" fill="#4e4e4e"/><polygon points="767.6,84.6 800.5,220.1 802.9,219.5 769.0,84.2" fill="#858585"/>
<polygon points="823.5,86.7 855.1,224.2 864.9,221.8 829.3,85.3" fill="#262626"/><polygon points="825.1,86.3 857.3,223.7 864.1,222.0 829.1,85.3" fill="#4e4e4e"/><polygon points="826.4,86.0 859.5,223.1 861.9,222.5 827.8,85.6" fill="#858585"/>
<polygon points="714.3,120.3 743.1,244.2 752.9,241.8 720.1,118.9" fill="#262626"/><polygon points="715.9,119.9 745.3,243.7 752.1,242.0 719.9,118.9" fill="#4e4e4e"/><polygon points="717.2,119.6 747.5,243.1 749.9,242.5 718.6,119.2" fill="#858585"/>
<polygon points="778.7,119.1 813.2,233.1 822.8,230.1 784.5,117.3" fill="#262626"/><polygon points="780.3,118.6 815.4,232.4 822.0,230.3 784.3,117.3" fill="#4e4e4e"/><polygon points="781.6,118.2 817.5,231.8 819.9,231.0 783.0,117.8" fill="#858585"/>
<polygon points="869.6,122.9 888.7,243.7 898.5,241.9 875.6,121.9" fill="#262626"/><polygon points="871.2,122.6 890.9,243.3 897.8,242.1 875.4,121.9" fill="#4e4e4e"/><polygon points="872.6,122.4 893.1,242.9 895.5,242.5 874.0,122.1" fill="#858585"/>
<polygon points="686.4,165.6 729.4,272.9 738.6,269.1 692.0,163.2" fill="#262626"/><polygon points="687.9,164.9 731.4,272.1 737.9,269.4 691.8,163.3" fill="#4e4e4e"/><polygon points="689.2,164.4 733.5,271.2 735.8,270.2 690.6,163.8" fill="#858585"/>
<polygon points="762.0,161.2 802.1,283.6 811.5,280.4 767.6,159.2" fill="#262626"/><polygon points="763.5,160.6 804.2,282.9 810.8,280.6 767.5,159.3" fill="#4e4e4e"/><polygon points="764.8,160.2 806.3,282.2 808.7,281.4 766.2,159.7" fill="#858585"/>
<polygon points="827.7,156.8 858.0,274.9 867.6,272.3 833.5,155.2" fill="#262626"/><polygon points="829.3,156.4 860.1,274.3 866.9,272.5 833.3,155.3" fill="#4e4e4e"/><polygon points="830.6,156.0 862.3,273.7 864.7,273.1 832.0,155.6" fill="#858585"/>
<polygon points="775.9,198.8 802.0,300.1 811.6,297.5 781.7,197.2" fill="#262626"/><polygon points="777.5,198.4 804.1,299.5 810.9,297.7 781.5,197.2" fill="#4e4e4e"/><polygon points="778.8,198.0 806.3,298.9 808.7,298.3 780.2,197.6" fill="#858585"/>
<polygon points="687.8,213.0 718.1,300.5 727.5,297.1 693.4,211.0" fill="#262626"/><polygon points="689.3,212.5 720.2,299.8 726.8,297.3 693.2,211.0" fill="#4e4e4e"/><polygon points="690.6,212.0 722.3,299.0 724.6,298.1 692.0,211.5" fill="#858585"/>
<polygon points="711.7,245.5 737.9,302.2 746.9,297.8 717.1,242.9" fill="#262626"/><polygon points="713.2,244.8 739.9,301.2 746.2,298.1 716.9,242.9" fill="#4e4e4e"/><polygon points="714.4,244.2 741.9,300.2 744.2,299.1 715.7,243.5" fill="#858585"/>
<polygon points="812.3,229.5 827.1,301.1 836.9,298.9 818.1,228.1" fill="#262626"/><polygon points="813.9,229.1 829.3,300.6 836.1,299.0 817.9,228.2" fill="#4e4e4e"/><polygon points="815.2,228.8 831.5,300.1 833.9,299.5 816.6,228.5" fill="#858585"/>
<polygon points="746.6,270.5 765.4,321.9 774.6,318.1 752.2,268.3" fill="#262626"/><polygon points="748.1,269.9 767.4,321.0 773.9,318.4 752.0,268.3" fill="#4e4e4e"/><polygon points="749.4,269.4 769.5,320.2 771.8,319.3 750.8,268.8" fill="#858585"/>
<polygon points="848.7,277.0 855.1,320.9 864.9,319.1 854.5,275.8" fill="#262626"/><polygon points="850.2,276.7 857.3,320.5 864.1,319.2 854.4,275.9" fill="#4e4e4e"/><polygon points="851.6,276.4 859.5,320.1 861.9,319.6 853.0,276.1" fill="#858585"/>
<circle cx="805.4" cy="63.6" r="6" fill="url(#ballg)"/>
<circle cx="767.6" cy="84.6" r="6" fill="url(#ballg)"/>
<circle cx="826.4" cy="86" r="6" fill="url(#ballg)"/>
<circle cx="717.2" cy="119.6" r="6" fill="url(#ballg)"/>
<circle cx="781.6" cy="118.2" r="6" fill="url(#ballg)"/>
<circle cx="872.6" cy="122.4" r="6" fill="url(#ballg)"/>
<circle cx="689.2" cy="164.4" r="6" fill="url(#ballg)"/>
<circle cx="764.8" cy="160.2" r="6" fill="url(#ballg)"/>
<circle cx="830.6" cy="156" r="6" fill="url(#ballg)"/>
<circle cx="778.8" cy="198" r="6" fill="url(#ballg)"/>
<circle cx="690.6" cy="212" r="6" fill="url(#ballg)"/>
<circle cx="714.4" cy="244.2" r="6" fill="url(#ballg)"/>
<circle cx="815.2" cy="228.8" r="6" fill="url(#ballg)"/>
<circle cx="749.4" cy="269.4" r="6" fill="url(#ballg)"/>
<circle cx="851.6" cy="276.4" r="6" fill="url(#ballg)"/>
<circle cx="871" cy="203.6" r="4.5" fill="url(#ballg)"/>
<circle cx="834.8" cy="216" r="4.5" fill="url(#ballg)"/>
<circle cx="864" cy="234.4" r="4.5" fill="url(#ballg)"/>
<circle cx="801" cy="234.4" r="4.5" fill="url(#ballg)"/>
<circle cx="902" cy="214.8" r="4.5" fill="url(#ballg)"/>
<circle cx="914.6" cy="172.8" r="4.5" fill="url(#ballg)"/>
<circle cx="914.6" cy="182.6" r="4.5" fill="url(#ballg)"/>
<circle cx="756.4" cy="256.8" r="4.5" fill="url(#ballg)"/>
<circle cx="801" cy="284.8" r="4.5" fill="url(#ballg)"/>
<path d="M671,194 L671,210" stroke="#1e1e1e" stroke-width="3.6"/>
<circle cx="671" cy="193" r="3" fill="url(#ballg)"/>
<path d="M692.8,194 L691,210" stroke="#1e1e1e" stroke-width="3.6"/>
<circle cx="692.8" cy="193" r="3" fill="url(#ballg)"/>
<path d="M714.4,193 L712,210" stroke="#1e1e1e" stroke-width="3.6"/>
<circle cx="714.4" cy="192" r="3" fill="url(#ballg)"/>
</g>
<circle cx="792.5" cy="175.6" r="126" fill="none" stroke="#d9774f" stroke-width="1.3"/>
<g clip-path="url(#c2)">
<rect x="20" y="660" width="280" height="280" fill="url(#housg)"/>
<path d="M110,680 C190,690 260,740 280,820 " fill="none" stroke="#262626" stroke-width="8"/>
<path d="M20,763 L26,766 L36,770 C48,776 62,783 75,791 C88,799 100,808 111,818 C120,826 128,835 135,845 C141,856 145,866 150,878 C154,888 157,900 159,911 C160,918 161,925 162,935 L20,935 Z" fill="url(#mesh2)"/>
<polygon points="20,690 70,690 54,737 20,735" fill="#161616"/>
<path d="M36,726 C45,731 52,734 60,738 C80,750 105,770 120,782 C133,792 142,800 150,809 C160,820 166,828 171,836 C180,850 187,860 192,872 C198,885 204,900 207,911 L214,935 L162,935 C161,925 160,918 159,911 C157,900 154,888 150,878 C145,866 141,856 135,845 C128,835 120,826 111,818 C100,808 88,799 75,791 C62,783 48,776 36,770 L26,766 Z" fill="url(#bandg)"/>
<path d="M141,737 C142,730 150,724 163,723.3 C180,724 196,734 209.2,748 C220,762 227,781 228,797.5 C228.5,804 227,809 225.7,810.7 C220,809 215,807 213.6,806.3 C212,800 210,795 209.2,792 C204,782 198,773 189,770 C180,763 170,755 157.5,748 C150,745 143,743 141,737 Z" fill="#050505"/>
<polygon points="107.7,666.8 67.2,810.7 76.8,813.3 116.3,669.2" fill="#2a2a2a"/><polygon points="110.0,667.4 69.7,811.4 76.4,813.2 116.1,669.1" fill="#6a6a6a"/><polygon points="112.0,668.0 71.8,812.0 74.2,812.6 114.1,668.6" fill="#a0a0a0"/>
<polygon points="128.5,701.4 91.5,798.4 100.5,801.6 134.7,703.6" fill="#222222"/><polygon points="130.3,702.0 93.8,799.2 99.6,801.3 134.3,703.5" fill="#626262"/><polygon points="131.5,702.5 95.5,799.8 98.0,800.7 133.2,703.1" fill="#a8a8a8"/>
<polygon points="170.2,737.7 122.0,850.2 130.8,853.8 176.2,740.1" fill="#222222"/><polygon points="172.0,738.4 124.3,851.1 130.0,853.5 175.9,740.0" fill="#626262"/><polygon points="173.1,738.9 125.9,851.8 128.3,852.8 174.8,739.5" fill="#a8a8a8"/>
<polygon points="191.0,781.8 137.6,902.1 146.4,905.9 197.0,784.4" fill="#222222"/><polygon points="192.8,782.6 139.9,903.1 145.6,905.5 196.7,784.2" fill="#626262"/><polygon points="193.9,783.0 141.5,903.8 143.9,904.8 195.6,783.8" fill="#a8a8a8"/>
<polygon points="84.3,708.0 51.7,803.7 60.7,806.7 90.5,710.0" fill="#222222"/><polygon points="86.1,708.6 54.0,804.5 59.9,806.4 90.2,709.9" fill="#626262"/><polygon points="87.3,709.0 55.7,805.0 58.2,805.9 89.0,709.5" fill="#a8a8a8"/>
<polygon points="54.4,727.5 33.5,785.5 42.5,788.5 60.6,729.5" fill="#222222"/><polygon points="56.2,728.1 35.8,786.3 41.7,788.2 60.2,729.4" fill="#626262"/><polygon points="57.4,728.5 37.5,786.8 40.0,787.7 59.1,729.0" fill="#a8a8a8"/>
<polygon points="110.3,745.7 80.5,828.5 89.5,831.5 116.5,747.7" fill="#222222"/><polygon points="112.1,746.3 82.8,829.3 88.7,831.2 116.1,747.6" fill="#626262"/><polygon points="113.3,746.7 84.5,829.8 87.0,830.7 115.0,747.2" fill="#a8a8a8"/>
<polygon points="103.9,791.1 67.4,884.1 76.2,887.5 109.9,793.3" fill="#222222"/><polygon points="105.7,791.7 69.6,885.0 75.4,887.2 109.6,793.2" fill="#626262"/><polygon points="106.8,792.2 71.3,885.6 73.8,886.5 108.5,792.8" fill="#a8a8a8"/>
<polygon points="57.0,810.7 39.5,858.5 48.5,861.5 63.2,812.7" fill="#222222"/><polygon points="58.8,811.3 41.8,859.3 47.7,861.2 62.8,812.6" fill="#626262"/><polygon points="60.0,811.7 43.5,859.8 46.0,860.7 61.7,812.2" fill="#a8a8a8"/>
<polygon points="123.4,850.8 98.6,907.2 107.4,910.8 129.4,853.2" fill="#222222"/><polygon points="125.2,851.5 100.9,908.1 106.6,910.5 129.1,853.1" fill="#626262"/><polygon points="126.3,852.0 102.5,908.8 105.0,909.8 128.0,852.6" fill="#a8a8a8"/>
<polygon points="89.4,870.8 77.4,919.0 86.6,921.0 95.8,872.2" fill="#222222"/><polygon points="91.3,871.2 79.7,919.5 85.8,920.8 95.4,872.1" fill="#626262"/><polygon points="92.5,871.5 81.5,919.9 84.1,920.5 94.3,871.9" fill="#a8a8a8"/>
<polygon points="183.1,824.9 155.5,898.4 164.5,901.6 189.3,827.1" fill="#222222"/><polygon points="184.9,825.6 157.8,899.2 163.6,901.3 188.9,827.0" fill="#626262"/><polygon points="186.1,826.0 159.5,899.8 162.0,900.7 187.8,826.6" fill="#a8a8a8"/>
<circle cx="131.6" cy="702.5" r="5.5" fill="url(#ballg)"/>
<circle cx="173.2" cy="738.9" r="5.5" fill="url(#ballg)"/>
<circle cx="194" cy="783.1" r="5.5" fill="url(#ballg)"/>
<circle cx="87.4" cy="709" r="5.5" fill="url(#ballg)"/>
<circle cx="57.5" cy="728.5" r="5.5" fill="url(#ballg)"/>
<circle cx="113.4" cy="746.7" r="5.5" fill="url(#ballg)"/>
<circle cx="106.9" cy="792.2" r="5.5" fill="url(#ballg)"/>
<circle cx="60.1" cy="811.7" r="5.5" fill="url(#ballg)"/>
<circle cx="126.4" cy="852" r="5.5" fill="url(#ballg)"/>
<circle cx="92.6" cy="871.5" r="5.5" fill="url(#ballg)"/>
<circle cx="186.2" cy="826" r="5.5" fill="url(#ballg)"/>
<circle cx="71.8" cy="814.3" r="3.8" fill="url(#ballg)"/>
<circle cx="93.9" cy="840.3" r="3.8" fill="url(#ballg)"/>
<circle cx="110.8" cy="868.9" r="3.8" fill="url(#ballg)"/>
<circle cx="51" cy="849.4" r="3.8" fill="url(#ballg)"/>
<circle cx="40.6" cy="788.3" r="3.8" fill="url(#ballg)"/>
<circle cx="127.7" cy="901.4" r="3.8" fill="url(#ballg)"/>
</g>
<circle cx="156" cy="797.6" r="126.5" fill="none" stroke="#d9774f" stroke-width="1.3"/>
<rect x="556" y="623" width="12" height="43" rx="2" fill="#1a1a1a" stroke="#333" stroke-width="1"/>
<path d="M831,637 A5.5,9 0 0 1 831,655 Z" fill="#222"/>
<rect x="794" y="628" width="38" height="35" fill="#262626"/>
<path d="M802.5,630 v31 M813.5,630 v31 M822,630 v31" stroke="#555" stroke-width="1.6"/>
<path d="M807.5,630 v31 M818,630 v31" stroke="#151515" stroke-width="2.2"/>
<rect x="825" y="630" width="6" height="31" fill="#4a4a4a"/>
<rect x="565.5" y="589" width="232" height="111" rx="5" fill="#0c0c0c"/>
<rect x="571" y="594" width="221" height="101" rx="2" fill="#181818" stroke="#2a2a2a" stroke-width="1.2"/>
<path d="M623.7,592 V697 M740,592 V697 M568,644.4 H795" stroke="#0a0a0a" stroke-width="3.5"/><path d="M624.5,592 V697 M740.8,592 V697 M568,645.2 H795" stroke="#303030" stroke-width="1.3"/>
<circle cx="775.3" cy="610" r="10.5" fill="#282828" filter="url(#blur2)"/>
<circle cx="775.3" cy="678" r="10.5" fill="#262626" filter="url(#blur2)"/>
<g stroke="#e0714a" stroke-width="1.5" fill="none">
 <path d="M373.3,89 V193"/>
 <path d="M124.7,188 V238.4 H334.5"/>
 <path d="M111.3,399.5 V443.2 H323.5"/>
 <path d="M72.4,567.7 V596.9 H217.3"/>
 <path d="M141.1,669 V619.7 H372 V633.3"/>
</g>
<g fill="#ec6a3c">
 <circle cx="373.3" cy="89.3" r="5.5"/><circle cx="373.4" cy="193" r="5.5"/>
 <circle cx="124.7" cy="188.2" r="5.5"/><circle cx="334.5" cy="238.4" r="5.5"/>
 <circle cx="111.3" cy="399.5" r="5.5"/><circle cx="323.5" cy="443.2" r="5.5"/>
 <circle cx="72.4" cy="567.7" r="5.5"/><circle cx="217.3" cy="596.9" r="5.5"/>
 <circle cx="141.1" cy="669.5" r="5.5"/><circle cx="372" cy="633.3" r="5.5"/>
</g></svg>
<div class="t" id="t1" style="left:94px;top:74px">Negative ion mouth</div>
<div class="t" id="t2" style="left:28px;top:148px">Remove button</div>
<div class="t" id="t3" style="left:27px;top:280px">Battery Bin</div>
<div class="t" id="t4" style="left:15.5px;top:325px;transform:scaleX(0.787)">(2*AAA Battery)</div>
<div class="t r" id="t5" style="left:15px;top:365px;transform:scaleX(0.79)">(NOT INCLUDED)</div>
<div class="t" id="t6" style="left:27px;top:534px">LED-Switch</div>
<div class="t" id="t7" style="left:828px;top:325px">Comb teeth</div>
<div class="t" id="t8" style="left:590px;top:752px;transform:scaleX(0.797)">Battery Cover</div>
<div class="t" id="t9" style="left:282px;top:879px">Negative ion mouth</div>
</body></html>
